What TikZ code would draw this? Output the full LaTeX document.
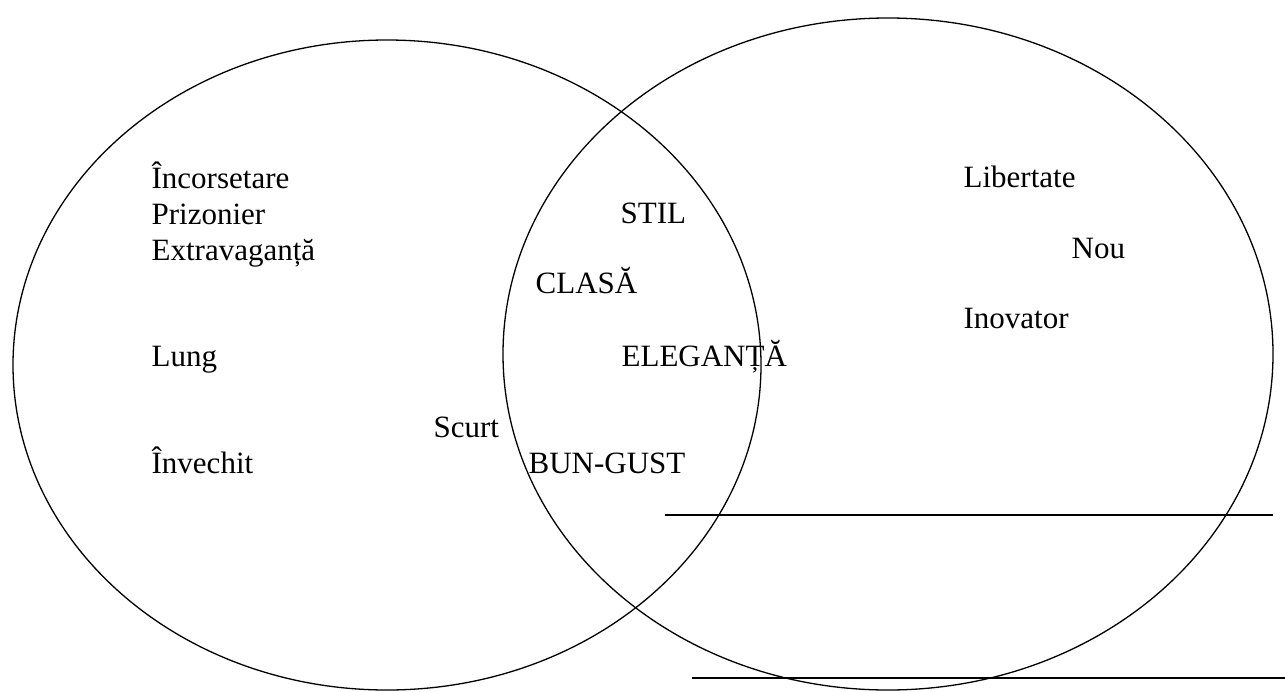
\documentclass[tikz,border=0pt]{standalone}
\usepackage{fontspec}
\setmainfont{Liberation Serif}
\usepackage{tikz}
\usetikzlibrary{shapes.geometric}
\newcommand{\wordfont}{\fontsize{15.5}{18}\selectfont}

\begin{document}
\begin{tikzpicture}[x=0.5pt, y=-0.5pt, line width=0.65pt,
        set/.style={ellipse, draw, inner sep=0pt},
        word/.style={anchor=base west, inner sep=0pt, font=\wordfont}]
        \useasboundingbox (0,0) rectangle (1285,691);

        % the two sets
        \node [set, minimum width=374pt, minimum height=325pt] (old) at (387,365) {};
        \node [set, minimum width=385pt, minimum height=336pt] (new) at (888,354) {};

        % left set
        \node [word] (incors) at (151,188) {Încorsetare};
        \node [word] (prizon) at (151,224) {Prizonier};
        \node [word] (extrav) at (151,260) {Extravaganță};
        \node [word] (lung) at (151,366) {Lung};
        \node [word] (scurt) at (433,437) {Scurt};
        \node [word] (invech) at (151,473) {Învechit};

        % common part
        \node [word] (stil) at (620,223) {STIL};
        \node [word] (clasa) at (535,293) {CLASĂ};
        \node [word] (eleg) at (621,366) {ELEGANȚĂ};
        \node [word] (bungust) at (528,473) {BUN-GUST};

        % right set
        \node [word] (libert) at (963,187) {Libertate};
        \node [word] (nou) at (1071,258) {Nou};
        \node [word] (inov) at (963,328) {Inovator};

        % blank lines
        \coordinate (lineAa) at (665,515);
        \coordinate (lineAb) at (1273,515);
        \coordinate (lineBa) at (692,678);
        \coordinate (lineBb) at (1285,678);
        \draw (lineAa) -- (lineAb);
        \draw [line width=0.8pt] (lineBa) -- (lineBb);
    \end{tikzpicture}
\end{document}
